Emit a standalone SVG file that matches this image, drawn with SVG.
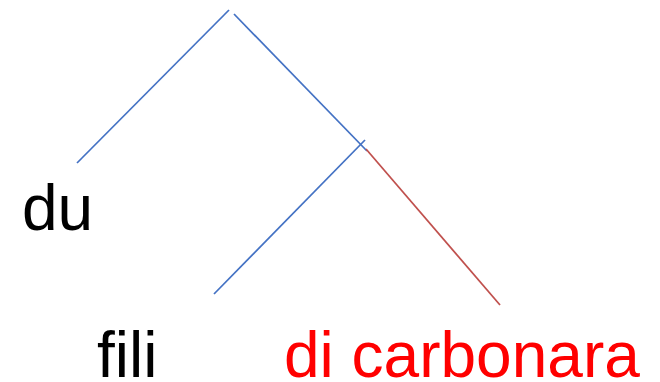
<svg xmlns="http://www.w3.org/2000/svg" width="660" height="382" viewBox="0 0 660 382">
<style>
.b{stroke:#4472C4;stroke-width:1.75;fill:none}
.r{stroke:#C0504D;stroke-width:1.75;fill:none}
text{font-family:"Liberation Sans",Arial,sans-serif;font-size:64px}
</style>
<rect width="660" height="382" fill="#fff"/>
<g id="connectors">
<line class="b" x1="229" y1="10" x2="77" y2="163"/>
<line class="b" x1="234" y1="14" x2="367" y2="151"/>
<line class="b" x1="365" y1="140" x2="214" y2="294"/>
<line class="r" x1="366" y1="149" x2="500" y2="305"/>
</g>
<g id="du"><text x="22" y="230" fill="#000">du</text></g>
<g id="fili"><text x="97" y="377" fill="#000">fili</text></g>
<g id="dicarbonara"><text x="284" y="377" fill="#FF0000">di carbonara</text></g>
</svg>
